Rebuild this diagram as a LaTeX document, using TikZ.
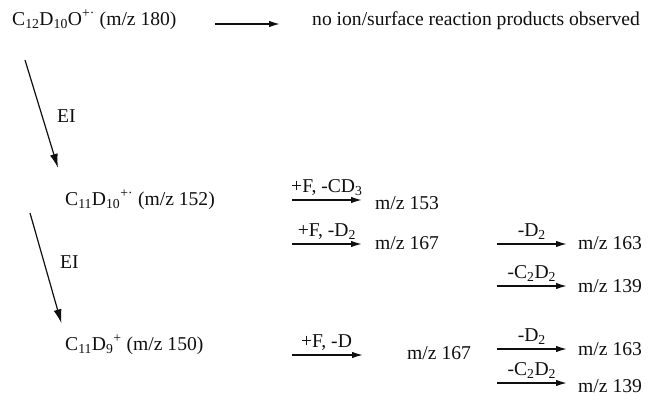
\documentclass[tikz,border=0pt]{standalone}
\usepackage{fontspec}
\setmainfont{Liberation Serif}
\usepackage{xcolor}
\usepackage{tikz}
\usetikzlibrary{arrows.meta,positioning}
\definecolor{rxink}{RGB}{15,15,15}
\tikzset{
  chem/.style={
    anchor=base west, inner sep=0pt, text=rxink,
    text height=14pt, text depth=5pt
  },
  lbl/.style={above=3pt, inner sep=0pt, text=rxink, text depth=4pt},
  rxn/.style={-{Latex[length=11pt,width=6.5pt]}, draw=rxink, line width=1.5pt},
  eiarr/.style={-{Latex[length=14pt,width=8pt]}, draw=rxink, line width=1.2pt},
  every picture/.append style={font=\fontsize{19.6}{23}\selectfont}
}

\begin{document}
\begin{tikzpicture}[x=1pt,y=-1pt]
  \useasboundingbox (0,0) rectangle (655,399);
  \node[chem] (c180) at (12,25) {C\textsubscript{12}D\textsubscript{10}O\textsuperscript{+·} (m/z 180)};
  \node[chem] (none) at (312,25) {no ion/surface reaction products observed};
  \node[chem] (c152) at (65,205) {C\textsubscript{11}D\textsubscript{10}\textsuperscript{+·} (m/z 152)};
  \node[chem] (c150) at (65,350) {C\textsubscript{11}D\textsubscript{9}\textsuperscript{+} (m/z 150)};
  \node[chem] (ei1) at (57,122) {EI};
  \node[chem] (ei2) at (60,268) {EI};
  \node[chem] (m153) at (375,209) {m/z 153};
  \node[chem] (m167a) at (375,249) {m/z 167};
  \node[chem] (m163a) at (578,249) {m/z 163};
  \node[chem] (m139a) at (578,292) {m/z 139};
  \node[chem] (m167b) at (407,359) {m/z 167};
  \node[chem] (m163b) at (578,355) {m/z 163};
  \node[chem] (m139b) at (578,392) {m/z 139};

  \coordinate (t0) at (215,24);
  \coordinate (e1) at (25,60);
  \coordinate (e2) at (30,213);
  \coordinate (r1) at (292,200);
  \coordinate (r2) at (292,244);
  \coordinate (r3) at (497,244);
  \coordinate (r4) at (497,286);
  \coordinate (r5) at (292,355);
  \coordinate (r6) at (497,349);
  \coordinate (r7) at (497,383);

  \draw[rxn, shorten >=32pt] (t0) -- (t0 -| none.west);
  \draw[eiarr, shorten >=24pt] (e1) -- (c152.north west);
  \draw[eiarr, shorten >=13pt] (e2) -- (c150.north west);
  \draw[rxn, shorten >=13pt] (r1) -- (r1 -| m153.west)
    node[lbl, pos=.42] {+F, -CD\textsubscript{3}};
  \draw[rxn, shorten >=13pt] (r2) -- (r2 -| m167a.west)
    node[lbl, pos=.42] {+F, -D\textsubscript{2}};
  \draw[rxn, shorten >=11pt] (r3) -- (r3 -| m163a.west)
    node[lbl, pos=.43] {-D\textsubscript{2}};
  \draw[rxn, shorten >=11pt] (r4) -- (r4 -| m139a.west)
    node[lbl, pos=.43] {-C\textsubscript{2}D\textsubscript{2}};
  \draw[rxn, shorten >=44pt] (r5) -- (r5 -| m167b.west)
    node[lbl, pos=.30] {+F, -D};
  \draw[rxn, shorten >=11pt] (r6) -- (r6 -| m163b.west)
    node[lbl, pos=.43] {-D\textsubscript{2}};
  \draw[rxn, shorten >=11pt] (r7) -- (r7 -| m139b.west)
    node[lbl, pos=.43] {-C\textsubscript{2}D\textsubscript{2}};
\end{tikzpicture}
\end{document}
